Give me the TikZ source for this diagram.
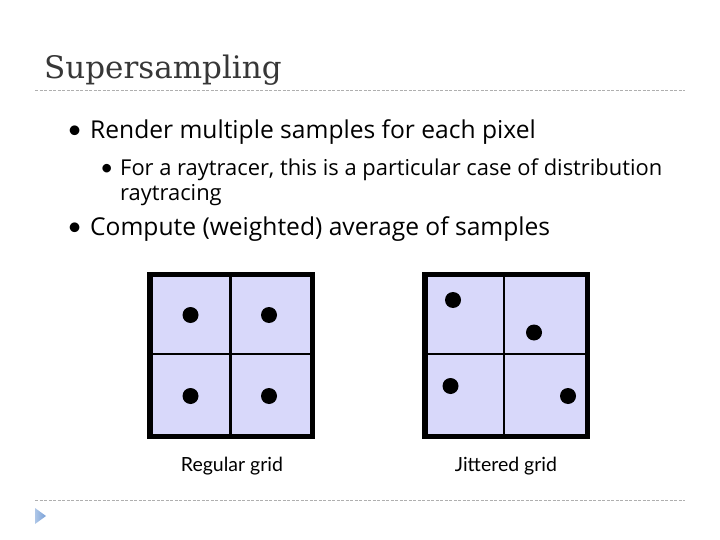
\documentclass[tikz,border=0pt]{standalone}
\usepackage{fontspec}
\setmainfont{DejaVu Serif}
\newfontfamily\bodyfont{Open Sans}
\newfontfamily\labelfont{Lato}
\usepackage{tikz}
\usetikzlibrary{positioning, shadings}
\definecolor{titlegray}{RGB}{55, 55, 55}
\definecolor{rulegray}{RGB}{175, 175, 175}
\definecolor{cellfill}{RGB}{216, 216, 250}
\definecolor{arrowblue}{RGB}{120, 160, 215}
\tikzset{
    slide title/.style={anchor=base west, inner sep=0pt, text=titlegray, font=\fontsize{31}{31}\selectfont},
    slide rule/.style={rulegray, dashed, dash pattern=on 3pt off 1.5pt, line width=0.8pt},
    bullet main/.style={anchor=base west, inner sep=0pt, font=\bodyfont\fontsize{24.6}{24}\selectfont},
    bullet sub/.style={anchor=base west, inner sep=0pt, align=left, font=\bodyfont\fontsize{21.9}{25}\selectfont},
    bullet dot/.style={anchor=base west, inner sep=0pt, font=\labelfont\fontsize{#1}{#1}\selectfont},
    grid frame/.style={draw=black, fill=cellfill, line width=5.5pt},
    grid line/.style={black, line width=2.6pt},
    sample dot/.style={circle, fill=black, inner sep=0pt, minimum size=16pt},
    grid label/.style={anchor=base, inner sep=0pt, font=\labelfont\fontsize{19.5}{20}\selectfont},
}
\begin{document}
\begin{tikzpicture}[x=1pt, y=-1pt]
\useasboundingbox (0,0) rectangle (720,540);
\node[slide title] (title) at (44,79) {Supersampling};
\coordinate (ruleA) at (35,90);
\coordinate (ruleB) at (685,90);
\draw[slide rule] (ruleA) -- (ruleB);
\node[bullet dot=26] (b1) at (67,139) {•};
\node[bullet main] (t1) at (90,139) {Render multiple samples for each pixel};
\node[bullet dot=23] (b2) at (100,176) {•};
\node[bullet sub] (t2) at (120,201) {For a raytracer, this is a particular case of distribution\\raytracing};
\node[bullet dot=26] (b3) at (67,236) {•};
\node[bullet main] (t3) at (90,236) {Compute (weighted) average of samples};
\draw[grid frame] (150,274.5) rectangle (312.5,436.5);
\draw[grid line] (230.5,274.5) -- (230.5,436.5);
\draw[grid line] (150,354) -- (312.5,354);
\node[sample dot] (r1) at (190.5,315) {};
\node[sample dot] (r2) at (269,315) {};
\node[sample dot] (r3) at (190.5,396) {};
\node[sample dot] (r4) at (269,396) {};
\node[grid label] (regular) at (232,471) {Regular grid};
\draw[grid frame] (425,274.5) rectangle (587.5,436.5);
\draw[grid line] (504,274.5) -- (504,436.5);
\draw[grid line] (425,354) -- (587.5,354);
\node[sample dot] (j1) at (453,300) {};
\node[sample dot] (j2) at (534,332.5) {};
\node[sample dot] (j3) at (450.5,386) {};
\node[sample dot] (j4) at (568,396) {};
\node[grid label] (jittered) at (506,471) {Jittered grid};
\coordinate (ruleC) at (35,500);
\coordinate (ruleD) at (685,500);
\draw[slide rule] (ruleC) -- (ruleD);
\shade[left color=arrowblue!60, right color=arrowblue] (35,508) -- (46,516) -- (35,524) -- cycle;
\end{tikzpicture}
\end{document}
